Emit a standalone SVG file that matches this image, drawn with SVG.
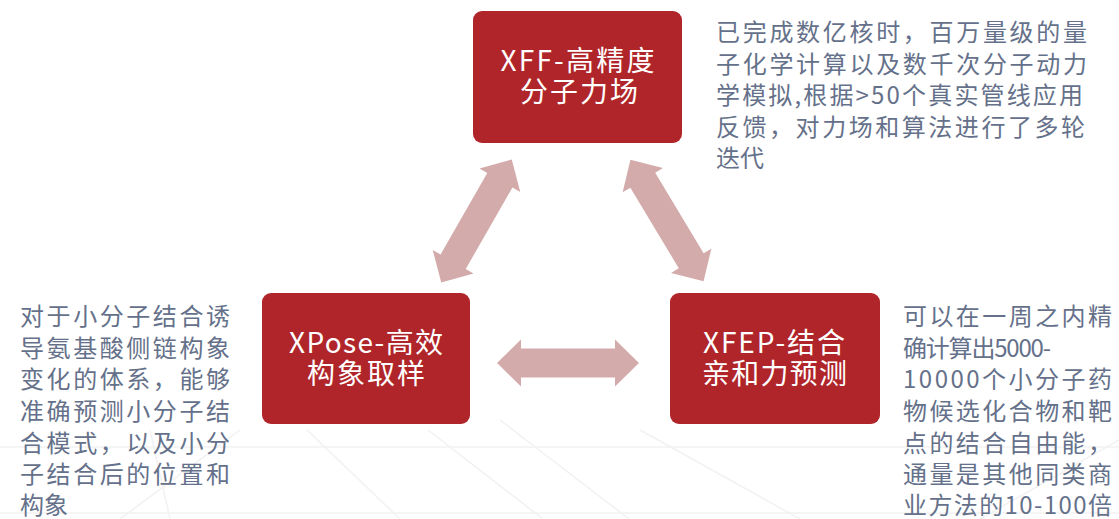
<svg xmlns="http://www.w3.org/2000/svg" width="1119" height="519" viewBox="0 0 1119 519">
  <style>
    .box { fill: #b0252a; }
    .btxt { fill: #ffffff; font-family: "Noto Sans CJK SC", "Noto Sans", sans-serif; font-size: 28px; text-anchor: middle; }
    .desc { fill: #65718a; font-family: "Noto Sans CJK SC", "Noto Sans", sans-serif; font-size: 24px; }
    .arrow { fill: #d4abab; }
    .grid line { stroke: #efefef; stroke-width: 1.5; }
  </style>
  <defs>
    <path id="dbl" d="M-71,0 L-47,-23.5 L-47,-14.5 L47,-14.5 L47,-23.5 L71,0 L47,23.5 L47,14.5 L-47,14.5 L-47,23.5 Z"/>
  </defs>
  <rect width="1119" height="519" fill="#ffffff"/>
  <g class="grid" opacity="0.8">
    <line x1="0" y1="447" x2="1119" y2="447"/>
    <line x1="0" y1="513" x2="1119" y2="513"/>
    <line x1="307" y1="430" x2="400" y2="519"/>
    <line x1="428" y1="430" x2="543" y2="519"/>
    <line x1="500" y1="420" x2="629" y2="519"/>
    <line x1="640" y1="430" x2="800" y2="519"/>
    <line x1="120" y1="519" x2="240" y2="430"/>
    <line x1="1119" y1="440" x2="980" y2="519"/>
    <line x1="150" y1="430" x2="170" y2="519"/>
  </g>
  <g id="connectors">
    <use href="#dbl" class="arrow" transform="translate(476.5,221) rotate(-60.2)"/>
    <use href="#dbl" class="arrow" transform="translate(667,220.5) rotate(59)"/>
    <use href="#dbl" class="arrow" transform="translate(568,363)"/>
  </g>
  <g id="node-xff">
    <rect class="box" x="473" y="11" width="209" height="132" rx="9"/>
    <text class="btxt" x="577.5" y="71" textLength="154" lengthAdjust="spacing">XFF-高精度</text>
    <text class="btxt" x="579" y="102" textLength="118" lengthAdjust="spacing">分子力场</text>
  </g>
  <g id="node-xpose">
    <rect class="box" x="262" y="293" width="208" height="131" rx="9"/>
    <text class="btxt" x="366" y="352.5" textLength="154" lengthAdjust="spacing">XPose-高效</text>
    <text class="btxt" x="366" y="384" textLength="118" lengthAdjust="spacing">构象取样</text>
  </g>
  <g id="node-xfep">
    <rect class="box" x="670" y="293" width="210" height="131" rx="9"/>
    <text class="btxt" x="774" y="352.5" textLength="142" lengthAdjust="spacing">XFEP-结合</text>
    <text class="btxt" x="774.5" y="384" textLength="145" lengthAdjust="spacing">亲和力预测</text>
  </g>
  <g id="desc-xff" class="desc">
    <text x="716" y="41" textLength="371" lengthAdjust="spacing">已完成数亿核时，百万量级的量</text>
    <text x="716" y="72.6" textLength="371" lengthAdjust="spacing">子化学计算以及数千次分子动力</text>
    <text x="716" y="104.2" textLength="367" lengthAdjust="spacing">学模拟,根据&gt;50个真实管线应用</text>
    <text x="716" y="135.8" textLength="369" lengthAdjust="spacing">反馈，对力场和算法进行了多轮</text>
    <text x="716" y="167.4">迭代</text>
  </g>
  <g id="desc-xpose" class="desc">
    <text x="20" y="325" textLength="210" lengthAdjust="spacing">对于小分子结合诱</text>
    <text x="20" y="356.7" textLength="210" lengthAdjust="spacing">导氨基酸侧链构象</text>
    <text x="20" y="388.3" textLength="210" lengthAdjust="spacing">变化的体系，能够</text>
    <text x="20" y="420" textLength="210" lengthAdjust="spacing">准确预测小分子结</text>
    <text x="20" y="451.7" textLength="210" lengthAdjust="spacing">合模式，以及小分</text>
    <text x="20" y="483.3" textLength="210" lengthAdjust="spacing">子结合后的位置和</text>
    <text x="20" y="514">构象</text>
  </g>
  <g id="desc-xfep" class="desc">
    <text x="903" y="325" textLength="209" lengthAdjust="spacing">可以在一周之内精</text>
    <text x="903" y="356.7" textLength="148" lengthAdjust="spacing">确计算出5000-</text>
    <text x="903" y="388.3" textLength="209" lengthAdjust="spacing">10000个小分子药</text>
    <text x="903" y="420" textLength="209" lengthAdjust="spacing">物候选化合物和靶</text>
    <text x="903" y="451.7" textLength="209" lengthAdjust="spacing">点的结合自由能，</text>
    <text x="903" y="483.3" textLength="209" lengthAdjust="spacing">通量是其他同类商</text>
    <text x="903" y="514" textLength="209" lengthAdjust="spacing">业方法的10-100倍</text>
  </g>
</svg>
